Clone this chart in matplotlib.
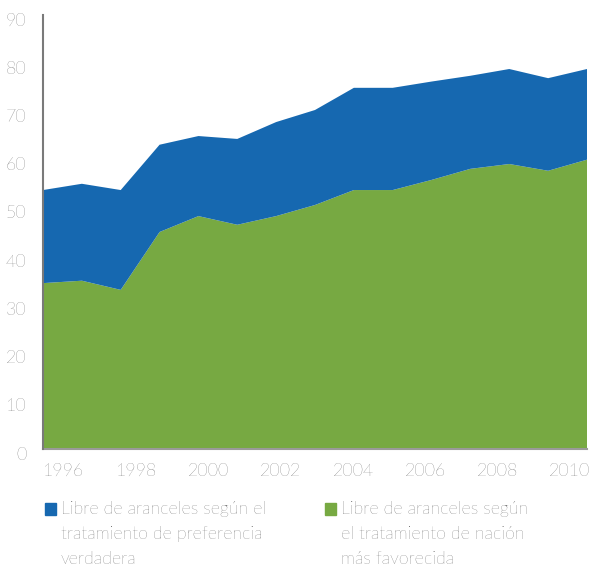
import numpy as np
import matplotlib
matplotlib.use("Agg")
import matplotlib.pyplot as plt
from matplotlib.patches import Rectangle
from matplotlib.transforms import ScaledTranslation

# ── datos ────────────────────────────────────────────────────────────────
years = list(range(1996, 2011))
nmf = [34.4, 34.9, 33.0, 45.0, 48.3, 46.5, 48.3, 50.6, 53.7, 53.7,
       55.8, 58.1, 59.1, 57.7, 60.0]          # nación más favorecida
total = [53.7, 55.0, 53.7, 63.1, 64.9, 64.3, 67.8, 70.3, 74.9, 74.9,
         76.2, 77.4, 78.8, 76.9, 78.8]        # total libre de aranceles
pref = [t - n for t, n in zip(total, nmf)]    # preferencia verdadera
year_labels = ["1996", "1998", "2000", "2002", "2004", "2006", "2008", "2010"]
y_ticks = list(range(0, 91, 10))

legend_labels = [
    "Libre de aranceles según el\ntratamiento de preferencia\nverdadera",
    "Libre de aranceles según\nel tratamiento de nación\nmás favorecida",
]
BLUE = "#1668b0"
GREEN = "#77a942"
GREY = "#3c3c3c"

plt.rcParams["font.family"] = ["Lato", "DejaVu Sans"]
plt.rcParams["font.weight"] = "light"

fig = plt.figure(figsize=(5.91, 5.66), dpi=100)
ax = fig.add_axes([43 / 591, 1 - 449 / 566, 544 / 591, 434 / 566])

ax.stackplot(years, nmf, pref, colors=[GREEN, BLUE], linewidth=0)
ax.set_xlim(years[0], years[-1])
ax.set_ylim(0, 90)

# etiquetas del eje x repartidas de forma uniforme (como en el original)
ax.set_xticks(np.linspace(years[0] + 0.54, years[0] + 13.56, len(year_labels)))
ax.set_xticklabels(year_labels)
ax.set_yticks(y_ticks)
ax.tick_params(length=0, labelsize=12.8, colors=GREY)
ax.tick_params(axis="y", pad=12)
ax.tick_params(axis="x", pad=10)

# en el original los números del eje y quedan un poco más abajo
shift = ScaledTranslation(0, -4 / 100, fig.dpi_scale_trans)
for lbl in ax.get_yticklabels():
    lbl.set_transform(lbl.get_transform() + shift)

for side in ["top", "right"]:
    ax.spines[side].set_visible(False)
ax.spines["left"].set_color("#7a7a7a")
ax.spines["bottom"].set_color("#9a9a9a")
ax.spines["left"].set_linewidth(1.5)
ax.spines["bottom"].set_linewidth(1.5)
ax.spines["left"].set_zorder(5)

# ── leyenda manual ───────────────────────────────────────────────────────
for x0, color, label in [(45, BLUE, legend_labels[0]), (325, GREEN, legend_labels[1])]:
    fig.patches.append(Rectangle((x0 / 591, 1 - 515 / 566), 11 / 591, 12 / 566,
                                 transform=fig.transFigure, color=color))
    fig.text((x0 + 16) / 591, 1 - 501 / 566, label, fontsize=12.8, color=GREY,
             va="top", ha="left", linespacing=1.68)

fig.savefig("out.png", dpi=100)
